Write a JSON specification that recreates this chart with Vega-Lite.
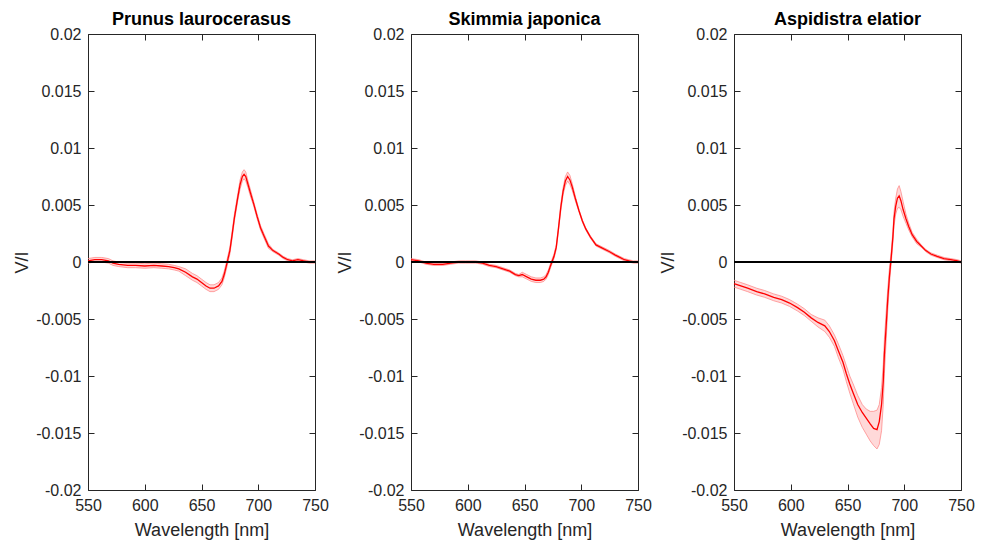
{
"$schema": "https://vega.github.io/schema/vega-lite/v6.json",
"background": "white",
"padding": {"left": 13, "top": 11, "right": 5, "bottom": 5},
"spacing": 7,
"config": {
 "font": "Liberation Sans",
 "view": {"stroke": null},
 "axis": {"grid": false, "domainColor": "#262626", "tickColor": "#262626", "tickSize": -6, "labelFontSize": 16, "titleFontSize": 18, "titleFontWeight": "normal", "labelColor": "#262626", "titleColor": "#262626", "labelPadding": 13, "labelFlush": false},
 "axisY": {"titlePadding": 4},
 "axisX": {"titlePadding": 8},
 "title": {"fontSize": 18, "fontWeight": "bold", "color": "#000", "offset": -3}
},
"data": {"values": [
{"s":"P","w":550,"m":0.0001,"lo":-0.0001,"hi":0.0003},
{"s":"P","w":556,"m":0.0002,"lo":0.0,"hi":0.0004},
{"s":"P","w":562,"m":0.0002,"lo":0.0,"hi":0.0004},
{"s":"P","w":568,"m":0.0001,"lo":-0.0001,"hi":0.0003},
{"s":"P","w":572,"m":-0.0001,"lo":-0.0003,"hi":0.0001},
{"s":"P","w":577,"m":-0.0002,"lo":-0.0004,"hi":0.0},
{"s":"P","w":585,"m":-0.0003,"lo":-0.0005,"hi":-0.0001},
{"s":"P","w":592,"m":-0.0003,"lo":-0.0005,"hi":-0.0001},
{"s":"P","w":600,"m":-0.00035,"lo":-0.00055,"hi":-0.00015},
{"s":"P","w":608,"m":-0.0003,"lo":-0.0005,"hi":-0.0001},
{"s":"P","w":615,"m":-0.00035,"lo":-0.00055,"hi":-0.00015},
{"s":"P","w":621,"m":-0.0004,"lo":-0.0006,"hi":-0.0002},
{"s":"P","w":626,"m":-0.0005,"lo":-0.0007,"hi":-0.0003},
{"s":"P","w":630,"m":-0.0006,"lo":-0.0008,"hi":-0.0004},
{"s":"P","w":636,"m":-0.0009,"lo":-0.0012,"hi":-0.0006},
{"s":"P","w":642,"m":-0.0013,"lo":-0.0016,"hi":-0.001},
{"s":"P","w":646,"m":-0.0015,"lo":-0.0018,"hi":-0.0012},
{"s":"P","w":650,"m":-0.0018,"lo":-0.0021,"hi":-0.0015},
{"s":"P","w":654,"m":-0.0021,"lo":-0.0024,"hi":-0.0018},
{"s":"P","w":657.5,"m":-0.0023,"lo":-0.0026,"hi":-0.002},
{"s":"P","w":661,"m":-0.0023,"lo":-0.0026,"hi":-0.002},
{"s":"P","w":665,"m":-0.0021,"lo":-0.0024,"hi":-0.0018},
{"s":"P","w":668,"m":-0.0017,"lo":-0.002,"hi":-0.0014},
{"s":"P","w":670,"m":-0.0011,"lo":-0.0014,"hi":-0.0008},
{"s":"P","w":672,"m":-0.0003,"lo":-0.0006,"hi":0.0},
{"s":"P","w":675,"m":0.001,"lo":0.0007,"hi":0.0013},
{"s":"P","w":677,"m":0.0024,"lo":0.0021,"hi":0.0027},
{"s":"P","w":679,"m":0.0039,"lo":0.0036,"hi":0.0042},
{"s":"P","w":682,"m":0.0057,"lo":0.0054,"hi":0.006},
{"s":"P","w":684,"m":0.0068,"lo":0.0064,"hi":0.0072},
{"s":"P","w":686,"m":0.0075,"lo":0.0071,"hi":0.0079},
{"s":"P","w":687.5,"m":0.0077,"lo":0.0073,"hi":0.0081},
{"s":"P","w":689,"m":0.0075,"lo":0.0071,"hi":0.0079},
{"s":"P","w":691,"m":0.0068,"lo":0.0065,"hi":0.0071},
{"s":"P","w":693,"m":0.0061,"lo":0.0058,"hi":0.0064},
{"s":"P","w":696,"m":0.0051,"lo":0.0049,"hi":0.0053},
{"s":"P","w":699,"m":0.004,"lo":0.0038,"hi":0.0042},
{"s":"P","w":702,"m":0.003,"lo":0.0028,"hi":0.0032},
{"s":"P","w":705,"m":0.0023,"lo":0.0021,"hi":0.0025},
{"s":"P","w":709,"m":0.0014,"lo":0.0012,"hi":0.0016},
{"s":"P","w":713,"m":0.001,"lo":0.0009,"hi":0.0011},
{"s":"P","w":718,"m":0.0007,"lo":0.0006,"hi":0.0008},
{"s":"P","w":722,"m":0.0004,"lo":0.0003,"hi":0.0005},
{"s":"P","w":726,"m":0.0002,"lo":0.0001,"hi":0.0003},
{"s":"P","w":730,"m":0.0001,"lo":0.0,"hi":0.0002},
{"s":"P","w":735,"m":0.0002,"lo":0.0001,"hi":0.0003},
{"s":"P","w":740,"m":0.0001,"lo":0.0,"hi":0.0002},
{"s":"P","w":745,"m":0.0,"lo":-0.0001,"hi":0.0001},
{"s":"P","w":750,"m":0.0,"lo":-0.0001,"hi":0.0001},
{"s":"S","w":550,"m":0.0002,"lo":0.0001,"hi":0.0003},
{"s":"S","w":557,"m":0.0001,"lo":0.0,"hi":0.0002},
{"s":"S","w":563,"m":-0.0001,"lo":-0.0002,"hi":0.0},
{"s":"S","w":570,"m":-0.0002,"lo":-0.0003,"hi":-0.0001},
{"s":"S","w":578,"m":-0.0002,"lo":-0.0003,"hi":-0.0001},
{"s":"S","w":585,"m":-0.0001,"lo":-0.0002,"hi":0.0},
{"s":"S","w":592,"m":0.0,"lo":-0.0001,"hi":0.0001},
{"s":"S","w":598,"m":0.0,"lo":-0.0001,"hi":0.0001},
{"s":"S","w":607,"m":0.0,"lo":-0.0001,"hi":0.0001},
{"s":"S","w":613,"m":-0.0001,"lo":-0.0002,"hi":0.0},
{"s":"S","w":619,"m":-0.0003,"lo":-0.0004,"hi":-0.0002},
{"s":"S","w":625,"m":-0.0004,"lo":-0.0005,"hi":-0.0003},
{"s":"S","w":631,"m":-0.0006,"lo":-0.0007,"hi":-0.0005},
{"s":"S","w":637,"m":-0.0008,"lo":-0.0009,"hi":-0.0007},
{"s":"S","w":642,"m":-0.0011,"lo":-0.0012,"hi":-0.001},
{"s":"S","w":645,"m":-0.0012,"lo":-0.0013,"hi":-0.0011},
{"s":"S","w":648,"m":-0.0011,"lo":-0.0013,"hi":-0.0009},
{"s":"S","w":652,"m":-0.0013,"lo":-0.0015,"hi":-0.0011},
{"s":"S","w":656,"m":-0.0015,"lo":-0.0017,"hi":-0.0013},
{"s":"S","w":660,"m":-0.0016,"lo":-0.0018,"hi":-0.0014},
{"s":"S","w":664,"m":-0.0016,"lo":-0.0018,"hi":-0.0014},
{"s":"S","w":667,"m":-0.0015,"lo":-0.0017,"hi":-0.0013},
{"s":"S","w":669,"m":-0.0013,"lo":-0.0015,"hi":-0.0011},
{"s":"S","w":671,"m":-0.0009,"lo":-0.0011,"hi":-0.0007},
{"s":"S","w":673,"m":-0.0003,"lo":-0.0005,"hi":-0.0001},
{"s":"S","w":676,"m":0.0005,"lo":0.0003,"hi":0.0007},
{"s":"S","w":678,"m":0.0013,"lo":0.0011,"hi":0.0015},
{"s":"S","w":680,"m":0.003,"lo":0.0028,"hi":0.0032},
{"s":"S","w":682,"m":0.0048,"lo":0.0045,"hi":0.0051},
{"s":"S","w":684,"m":0.0062,"lo":0.0059,"hi":0.0065},
{"s":"S","w":686,"m":0.0071,"lo":0.0067,"hi":0.0075},
{"s":"S","w":688,"m":0.0075,"lo":0.0071,"hi":0.0079},
{"s":"S","w":690,"m":0.0072,"lo":0.0068,"hi":0.0076},
{"s":"S","w":692,"m":0.0066,"lo":0.0063,"hi":0.0069},
{"s":"S","w":695,"m":0.0055,"lo":0.0053,"hi":0.0057},
{"s":"S","w":698,"m":0.0045,"lo":0.0044,"hi":0.0046},
{"s":"S","w":701,"m":0.0036,"lo":0.0035,"hi":0.0037},
{"s":"S","w":704,"m":0.0029,"lo":0.0028,"hi":0.003},
{"s":"S","w":708,"m":0.0022,"lo":0.0021,"hi":0.0023},
{"s":"S","w":713,"m":0.0015,"lo":0.0014,"hi":0.0016},
{"s":"S","w":719,"m":0.0012,"lo":0.0011,"hi":0.0013},
{"s":"S","w":725,"m":0.0009,"lo":0.0008,"hi":0.001},
{"s":"S","w":730,"m":0.0006,"lo":0.0005,"hi":0.0007},
{"s":"S","w":734,"m":0.0004,"lo":0.0003,"hi":0.0005},
{"s":"S","w":738,"m":0.0002,"lo":0.0001,"hi":0.0003},
{"s":"S","w":742,"m":0.0001,"lo":0.0,"hi":0.0002},
{"s":"S","w":746,"m":0.0,"lo":-0.0001,"hi":0.0001},
{"s":"S","w":750,"m":0.0,"lo":-0.0001,"hi":0.0001},
{"s":"A","w":550,"m":-0.0019,"lo":-0.0022,"hi":-0.0016},
{"s":"A","w":556,"m":-0.0021,"lo":-0.0024,"hi":-0.0018},
{"s":"A","w":562,"m":-0.0023,"lo":-0.0026,"hi":-0.002},
{"s":"A","w":570,"m":-0.0026,"lo":-0.0029,"hi":-0.0023},
{"s":"A","w":577,"m":-0.0028,"lo":-0.0031,"hi":-0.0025},
{"s":"A","w":585,"m":-0.0031,"lo":-0.0034,"hi":-0.0028},
{"s":"A","w":592,"m":-0.0033,"lo":-0.0036,"hi":-0.003},
{"s":"A","w":599,"m":-0.0036,"lo":-0.0039,"hi":-0.0033},
{"s":"A","w":606,"m":-0.004,"lo":-0.0043,"hi":-0.0037},
{"s":"A","w":612,"m":-0.0044,"lo":-0.0047,"hi":-0.0041},
{"s":"A","w":618,"m":-0.0049,"lo":-0.0052,"hi":-0.0046},
{"s":"A","w":624,"m":-0.0053,"lo":-0.0057,"hi":-0.0049},
{"s":"A","w":630,"m":-0.0056,"lo":-0.0061,"hi":-0.0051},
{"s":"A","w":634,"m":-0.0061,"lo":-0.0066,"hi":-0.0056},
{"s":"A","w":638.5,"m":-0.0069,"lo":-0.0074,"hi":-0.0064},
{"s":"A","w":642,"m":-0.0078,"lo":-0.0084,"hi":-0.0072},
{"s":"A","w":646,"m":-0.0088,"lo":-0.0094,"hi":-0.0082},
{"s":"A","w":649,"m":-0.0098,"lo":-0.0105,"hi":-0.0091},
{"s":"A","w":652,"m":-0.0107,"lo":-0.0115,"hi":-0.01},
{"s":"A","w":655,"m":-0.0115,"lo":-0.0124,"hi":-0.0107},
{"s":"A","w":659,"m":-0.0125,"lo":-0.0136,"hi":-0.0117},
{"s":"A","w":663,"m":-0.0132,"lo":-0.0145,"hi":-0.0125},
{"s":"A","w":666.5,"m":-0.0137,"lo":-0.0151,"hi":-0.0129},
{"s":"A","w":670,"m":-0.0142,"lo":-0.0157,"hi":-0.0131},
{"s":"A","w":673,"m":-0.0146,"lo":-0.0161,"hi":-0.0131},
{"s":"A","w":676,"m":-0.0147,"lo":-0.0164,"hi":-0.013},
{"s":"A","w":678,"m":-0.014,"lo":-0.016,"hi":-0.0125},
{"s":"A","w":680,"m":-0.0125,"lo":-0.0148,"hi":-0.011},
{"s":"A","w":681.5,"m":-0.0105,"lo":-0.0125,"hi":-0.009},
{"s":"A","w":682.5,"m":-0.0081,"lo":-0.0098,"hi":-0.0068},
{"s":"A","w":684,"m":-0.0057,"lo":-0.007,"hi":-0.0045},
{"s":"A","w":685.5,"m":-0.0032,"lo":-0.0042,"hi":-0.0023},
{"s":"A","w":687,"m":-0.0012,"lo":-0.0019,"hi":-0.0005},
{"s":"A","w":688.5,"m":0.0004,"lo":-0.0001,"hi":0.0009},
{"s":"A","w":690,"m":0.0022,"lo":0.0017,"hi":0.0027},
{"s":"A","w":691,"m":0.0038,"lo":0.0032,"hi":0.0044},
{"s":"A","w":692.5,"m":0.0049,"lo":0.0042,"hi":0.0056},
{"s":"A","w":694,"m":0.0056,"lo":0.0047,"hi":0.0064},
{"s":"A","w":695.5,"m":0.0058,"lo":0.0048,"hi":0.0067},
{"s":"A","w":697,"m":0.0054,"lo":0.0046,"hi":0.0062},
{"s":"A","w":699,"m":0.0046,"lo":0.004,"hi":0.0053},
{"s":"A","w":701.5,"m":0.0038,"lo":0.0034,"hi":0.0042},
{"s":"A","w":704,"m":0.0031,"lo":0.0028,"hi":0.0034},
{"s":"A","w":707,"m":0.0024,"lo":0.0022,"hi":0.0026},
{"s":"A","w":711,"m":0.0018,"lo":0.0016,"hi":0.002},
{"s":"A","w":715,"m":0.0014,"lo":0.0013,"hi":0.0015},
{"s":"A","w":719,"m":0.001,"lo":0.0009,"hi":0.0011},
{"s":"A","w":723.5,"m":0.0007,"lo":0.0006,"hi":0.0008},
{"s":"A","w":729,"m":0.0005,"lo":0.0004,"hi":0.0006},
{"s":"A","w":735,"m":0.0003,"lo":0.0002,"hi":0.0004},
{"s":"A","w":741,"m":0.0002,"lo":0.0001,"hi":0.0003},
{"s":"A","w":747,"m":0.0001,"lo":0.0,"hi":0.0002},
{"s":"A","w":750,"m":0.0,"lo":-0.0001,"hi":0.0001}
]},
"hconcat": [
 {"title": {"text": "Prunus laurocerasus"}, "width": 227, "height": 456,
  "transform": [{"filter": "datum.s == 'P'"}],
  "layer": [
   {"mark": {"type": "area", "color": "#ff0000", "opacity": 0.15},
    "encoding": {"x": {"field": "w", "type": "quantitative", "scale": {"domain": [550, 750], "nice": false, "zero": false}, "axis": {"values": [550, 600, 650, 700, 750], "title": "Wavelength [nm]"}},
                 "y": {"field": "lo", "type": "quantitative", "scale": {"domain": [-0.02, 0.02], "nice": false}, "axis": {"values": [-0.02, -0.015, -0.01, -0.005, 0, 0.005, 0.01, 0.015, 0.02], "labelExpr": "'' + datum.value", "title": "V/I"}},
                 "y2": {"field": "hi"}}},
   {"mark": {"type": "line", "color": "#ff8080", "strokeWidth": 0.7}, "encoding": {"x": {"field": "w", "type": "quantitative", "scale": {"domain": [550, 750], "nice": false, "zero": false}, "axis": null}, "y": {"field": "lo", "type": "quantitative", "scale": {"domain": [-0.02, 0.02], "nice": false}, "axis": null}}},
   {"mark": {"type": "line", "color": "#ff8080", "strokeWidth": 0.7}, "encoding": {"x": {"field": "w", "type": "quantitative", "scale": {"domain": [550, 750], "nice": false, "zero": false}, "axis": null}, "y": {"field": "hi", "type": "quantitative", "scale": {"domain": [-0.02, 0.02], "nice": false}, "axis": null}}},
   {"mark": {"type": "line", "color": "#ff0000", "strokeWidth": 1.3}, "encoding": {"x": {"field": "w", "type": "quantitative", "scale": {"domain": [550, 750], "nice": false, "zero": false}, "axis": null}, "y": {"field": "m", "type": "quantitative", "scale": {"domain": [-0.02, 0.02], "nice": false}, "axis": null}}},
   {"mark": {"type": "rule", "color": "#000000", "strokeWidth": 2}, "encoding": {"y": {"datum": 0, "type": "quantitative", "scale": {"domain": [-0.02, 0.02], "nice": false}, "axis": null}}},
   {"mark": {"type": "point", "opacity": 0},
    "encoding": {"x": {"field": "w", "type": "quantitative", "scale": {"domain": [550, 750], "nice": false, "zero": false}, "axis": {"orient": "top", "labels": false, "title": null, "values": [550, 600, 650, 700, 750]}},
                 "y": {"field": "m", "type": "quantitative", "scale": {"domain": [-0.02, 0.02], "nice": false}, "axis": {"orient": "right", "labels": false, "title": null, "values": [-0.02, -0.015, -0.01, -0.005, 0, 0.005, 0.01, 0.015, 0.02]}}}}
  ],
  "resolve": {"axis": {"x": "independent", "y": "independent"}}
 },
 {"title": {"text": "Skimmia japonica"}, "width": 227, "height": 456,
  "transform": [{"filter": "datum.s == 'S'"}],
  "layer": [
   {"mark": {"type": "area", "color": "#ff0000", "opacity": 0.15},
    "encoding": {"x": {"field": "w", "type": "quantitative", "scale": {"domain": [550, 750], "nice": false, "zero": false}, "axis": {"values": [550, 600, 650, 700, 750], "title": "Wavelength [nm]"}},
                 "y": {"field": "lo", "type": "quantitative", "scale": {"domain": [-0.02, 0.02], "nice": false}, "axis": {"values": [-0.02, -0.015, -0.01, -0.005, 0, 0.005, 0.01, 0.015, 0.02], "labelExpr": "'' + datum.value", "title": "V/I"}},
                 "y2": {"field": "hi"}}},
   {"mark": {"type": "line", "color": "#ff8080", "strokeWidth": 0.7}, "encoding": {"x": {"field": "w", "type": "quantitative", "scale": {"domain": [550, 750], "nice": false, "zero": false}, "axis": null}, "y": {"field": "lo", "type": "quantitative", "scale": {"domain": [-0.02, 0.02], "nice": false}, "axis": null}}},
   {"mark": {"type": "line", "color": "#ff8080", "strokeWidth": 0.7}, "encoding": {"x": {"field": "w", "type": "quantitative", "scale": {"domain": [550, 750], "nice": false, "zero": false}, "axis": null}, "y": {"field": "hi", "type": "quantitative", "scale": {"domain": [-0.02, 0.02], "nice": false}, "axis": null}}},
   {"mark": {"type": "line", "color": "#ff0000", "strokeWidth": 1.3}, "encoding": {"x": {"field": "w", "type": "quantitative", "scale": {"domain": [550, 750], "nice": false, "zero": false}, "axis": null}, "y": {"field": "m", "type": "quantitative", "scale": {"domain": [-0.02, 0.02], "nice": false}, "axis": null}}},
   {"mark": {"type": "rule", "color": "#000000", "strokeWidth": 2}, "encoding": {"y": {"datum": 0, "type": "quantitative", "scale": {"domain": [-0.02, 0.02], "nice": false}, "axis": null}}},
   {"mark": {"type": "point", "opacity": 0},
    "encoding": {"x": {"field": "w", "type": "quantitative", "scale": {"domain": [550, 750], "nice": false, "zero": false}, "axis": {"orient": "top", "labels": false, "title": null, "values": [550, 600, 650, 700, 750]}},
                 "y": {"field": "m", "type": "quantitative", "scale": {"domain": [-0.02, 0.02], "nice": false}, "axis": {"orient": "right", "labels": false, "title": null, "values": [-0.02, -0.015, -0.01, -0.005, 0, 0.005, 0.01, 0.015, 0.02]}}}}
  ],
  "resolve": {"axis": {"x": "independent", "y": "independent"}}
 },
 {"title": {"text": "Aspidistra elatior"}, "width": 227, "height": 456,
  "transform": [{"filter": "datum.s == 'A'"}],
  "layer": [
   {"mark": {"type": "area", "color": "#ff0000", "opacity": 0.15},
    "encoding": {"x": {"field": "w", "type": "quantitative", "scale": {"domain": [550, 750], "nice": false, "zero": false}, "axis": {"values": [550, 600, 650, 700, 750], "title": "Wavelength [nm]"}},
                 "y": {"field": "lo", "type": "quantitative", "scale": {"domain": [-0.02, 0.02], "nice": false}, "axis": {"values": [-0.02, -0.015, -0.01, -0.005, 0, 0.005, 0.01, 0.015, 0.02], "labelExpr": "'' + datum.value", "title": "V/I"}},
                 "y2": {"field": "hi"}}},
   {"mark": {"type": "line", "color": "#ff8080", "strokeWidth": 0.7}, "encoding": {"x": {"field": "w", "type": "quantitative", "scale": {"domain": [550, 750], "nice": false, "zero": false}, "axis": null}, "y": {"field": "lo", "type": "quantitative", "scale": {"domain": [-0.02, 0.02], "nice": false}, "axis": null}}},
   {"mark": {"type": "line", "color": "#ff8080", "strokeWidth": 0.7}, "encoding": {"x": {"field": "w", "type": "quantitative", "scale": {"domain": [550, 750], "nice": false, "zero": false}, "axis": null}, "y": {"field": "hi", "type": "quantitative", "scale": {"domain": [-0.02, 0.02], "nice": false}, "axis": null}}},
   {"mark": {"type": "line", "color": "#ff0000", "strokeWidth": 1.3}, "encoding": {"x": {"field": "w", "type": "quantitative", "scale": {"domain": [550, 750], "nice": false, "zero": false}, "axis": null}, "y": {"field": "m", "type": "quantitative", "scale": {"domain": [-0.02, 0.02], "nice": false}, "axis": null}}},
   {"mark": {"type": "rule", "color": "#000000", "strokeWidth": 2}, "encoding": {"y": {"datum": 0, "type": "quantitative", "scale": {"domain": [-0.02, 0.02], "nice": false}, "axis": null}}},
   {"mark": {"type": "point", "opacity": 0},
    "encoding": {"x": {"field": "w", "type": "quantitative", "scale": {"domain": [550, 750], "nice": false, "zero": false}, "axis": {"orient": "top", "labels": false, "title": null, "values": [550, 600, 650, 700, 750]}},
                 "y": {"field": "m", "type": "quantitative", "scale": {"domain": [-0.02, 0.02], "nice": false}, "axis": {"orient": "right", "labels": false, "title": null, "values": [-0.02, -0.015, -0.01, -0.005, 0, 0.005, 0.01, 0.015, 0.02]}}}}
  ],
  "resolve": {"axis": {"x": "independent", "y": "independent"}}
 }
]
}
